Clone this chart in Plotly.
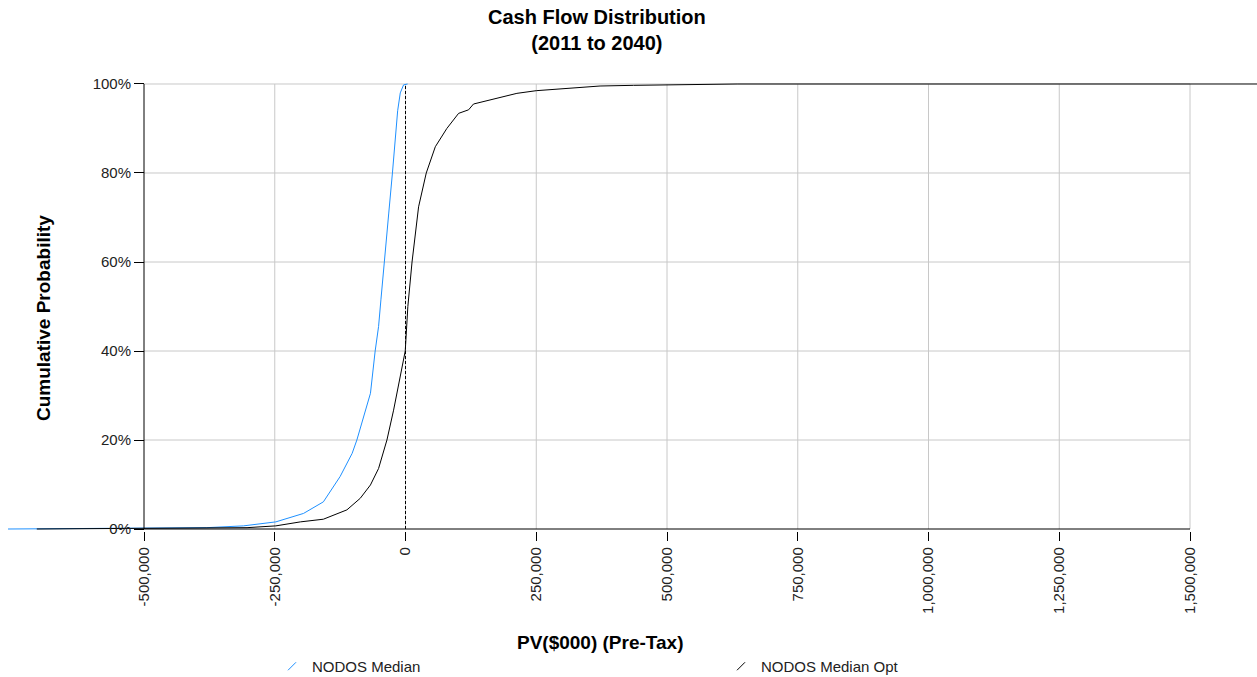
import plotly.graph_objects as go

# ---------------- data ----------------
title_lines = ["Cash Flow Distribution", "(2011 to 2040)"]
x_title = "PV($000) (Pre-Tax)"
y_title = "Cumulative Probability"
series_names = ["NODOS Median", "NODOS Median Opt"]
series_colors = ["#1E90FF", "#000000"]

x_tick_vals = [-500000, -250000, 0, 250000, 500000, 750000, 1000000, 1250000, 1500000]
x_tick_text = ["-500,000", "-250,000", "0", "250,000", "500,000", "750,000",
               "1,000,000", "1,250,000", "1,500,000"]
y_tick_vals = [0, 0.2, 0.4, 0.6, 0.8, 1.0]
y_tick_text = ["0%", "20%", "40%", "60%", "80%", "100%"]

median_x = [-760000, -380000, -310000, -248000, -195000, -157000, -125000, -102000,
            -93000, -80000, -67000, -58000, -51500, -47000, -40000, -32000, -25000,
            -19600, -15000, -10000, -3700, 4000]
median_p = [0.0, 0.003, 0.007, 0.016, 0.035, 0.061, 0.118, 0.17,
            0.20, 0.252, 0.305, 0.40, 0.455, 0.515, 0.60, 0.71, 0.80,
            0.874, 0.94, 0.98, 0.998, 1.0]

opt_x = [-705000, -437000, -303000, -248000, -201000, -157000, -112000, -86500,
         -67000, -51500, -35500, -22800, -10000, -500, 4500, 12500, 25000, 39700,
         57000, 79000, 101500, 120600, 130000, 175000, 213000, 250000, 277000,
         334000, 372000, 436000, 501000, 634000, 1700000]
opt_p = [0.0, 0.001, 0.003, 0.007, 0.016, 0.022, 0.043, 0.069,
         0.099, 0.136, 0.20, 0.267, 0.342, 0.40, 0.50, 0.60, 0.724, 0.80,
         0.859, 0.90, 0.934, 0.942, 0.955, 0.968, 0.979, 0.985, 0.987,
         0.9925, 0.9955, 0.997, 0.9985, 1.0, 1.0]

# ---------------- layout geometry ----------------
W, H = 1257, 677
PL, PR, PT, PB = 144, 1190, 84, 529      # plot frame in pixels
MT, MB = 80, 140
paper_h = H - MT - MB

sx = (PR - PL) / (x_tick_vals[-1] - x_tick_vals[0])
x_lo = x_tick_vals[0] - PL / sx
x_hi = x_lo + W / sx

pad = 0.005
sy = (PB - PT) / (y_tick_vals[-1] - y_tick_vals[0])
top_px = PT - pad * sy
bot_px = PB + pad * sy
y_dom = [(H - MB - bot_px) / paper_h, (H - MB - top_px) / paper_h]


def px_x(p):
    return p / W


def px_y(p):
    return (H - MB - p) / paper_h


FONT = "Liberation Sans, Arial, sans-serif"
GRID = "#c8c8c8"

fig = go.Figure()

for xs, ps, name, col in [(median_x, median_p, series_names[0], series_colors[0]),
                          (opt_x, opt_p, series_names[1], series_colors[1])]:
    fig.add_trace(go.Scatter(x=xs, y=ps, mode="lines", name=name,
                             line=dict(color=col, width=1), showlegend=False,
                             hoverinfo="x+y"))

# legend entries with slash icons
for name, col in zip(series_names, series_colors):
    fig.add_trace(go.Scatter(x=[None], y=[None], mode="markers", name=name,
                             marker=dict(symbol="line-ne", size=8,
                                         line=dict(color=col, width=1))))

shapes = []
for yv in y_tick_vals[1:]:
    shapes.append(dict(type="line", xref="x", yref="y", x0=x_tick_vals[0], x1=x_tick_vals[-1],
                       y0=yv, y1=yv, line=dict(color=GRID, width=1), layer="below"))
for xv in x_tick_vals[1:]:
    shapes.append(dict(type="line", xref="x", yref="y", x0=xv, x1=xv,
                       y0=y_tick_vals[0], y1=y_tick_vals[-1], line=dict(color=GRID, width=1),
                       layer="below"))
# axis lines
shapes.append(dict(type="line", xref="x", yref="y", x0=x_tick_vals[0], x1=x_tick_vals[0],
                   y0=y_tick_vals[0], y1=y_tick_vals[-1], line=dict(color="#000", width=1)))
shapes.append(dict(type="line", xref="x", yref="y", x0=x_tick_vals[0], x1=x_tick_vals[-1],
                   y0=0, y1=0, line=dict(color="#000", width=1)))
# dashed zero line
shapes.append(dict(type="line", xref="x", yref="y", x0=0, x1=0,
                   y0=y_tick_vals[0], y1=y_tick_vals[-1],
                   line=dict(color="#000", width=1, dash="3px,2px")))

annotations = [
    dict(text="<b>" + "<br>".join(title_lines) + "</b>", xref="paper", yref="paper",
         x=px_x(597), y=px_y(4), xanchor="center", yanchor="top", showarrow=False,
         font=dict(family=FONT, size=20, color="#000")),
    dict(text="<b>" + x_title + "</b>", xref="paper", yref="paper",
         x=px_x(600), y=px_y(642), xanchor="center", yanchor="middle", showarrow=False,
         font=dict(family=FONT, size=19, color="#000")),
    dict(text="<b>" + y_title + "</b>", xref="paper", yref="paper",
         x=px_x(43), y=px_y(318), xanchor="center", yanchor="middle", showarrow=False,
         textangle=-90, font=dict(family=FONT, size=19, color="#000")),
]

fig.update_layout(
    width=W, height=H,
    margin=dict(l=0, r=0, t=MT, b=MB, autoexpand=False),
    paper_bgcolor="white", plot_bgcolor="white",
    font=dict(family=FONT, size=15, color="#222"),
    showlegend=True,
    legend=dict(orientation="h", x=px_x(272), y=px_y(650), xanchor="left", yanchor="top",
                entrywidth=404, entrywidthmode="pixels", bgcolor="rgba(0,0,0,0)",
                font=dict(family=FONT, size=15, color="#222")),
    shapes=shapes,
    annotations=annotations,
    xaxis=dict(range=[x_lo, x_hi], domain=[0, 1], tickvals=x_tick_vals, ticktext=x_tick_text,
               tickangle=-90, ticks="outside", ticklen=9, tickcolor="#000", showgrid=False,
               zeroline=False, showline=False, fixedrange=True, automargin=False,
               tickfont=dict(family=FONT, size=15, color="#222")),
    yaxis=dict(range=[y_tick_vals[0] - pad, y_tick_vals[-1] + pad], domain=y_dom,
               anchor="free", position=px_x(PL), tickvals=y_tick_vals, ticktext=y_tick_text,
               ticks="outside", ticklen=10, tickcolor="#000", showgrid=False, zeroline=False,
               showline=False, fixedrange=True, automargin=False,
               tickfont=dict(family=FONT, size=15, color="#222")),
)

fig.write_html("out.html", config={"displayModeBar": False},
               post_script="document.body.style.margin='0';document.body.style.overflow='hidden';")
